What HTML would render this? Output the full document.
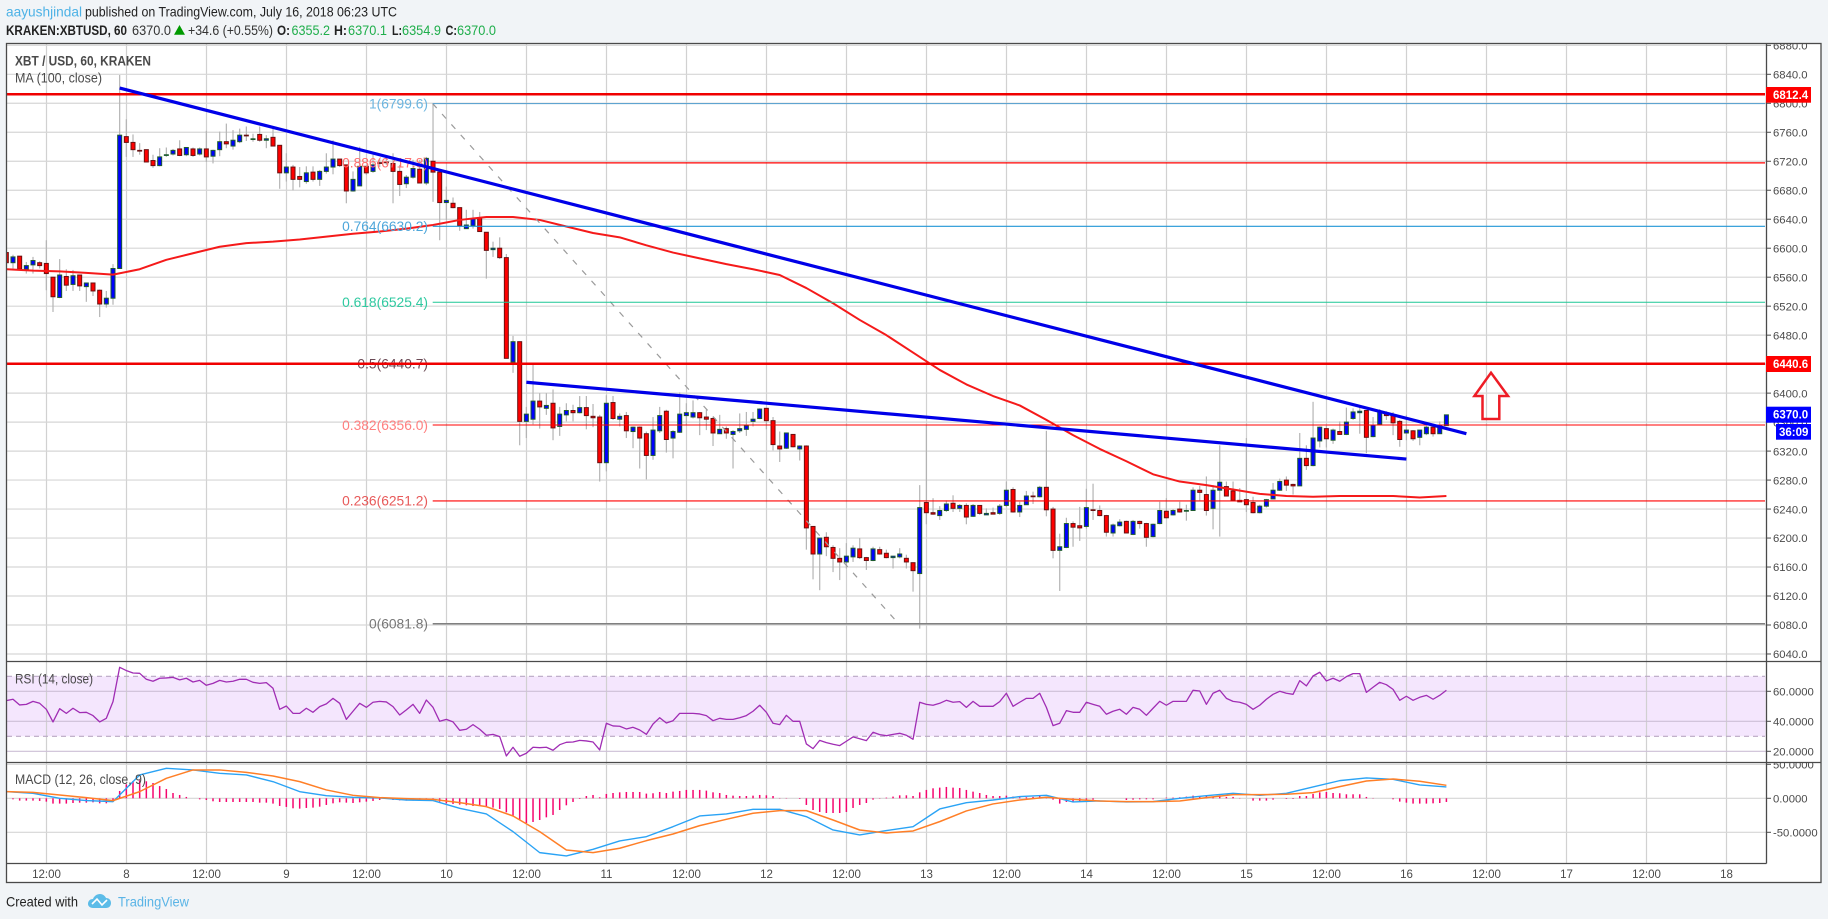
<!DOCTYPE html>
<html lang="en">
<head>
<meta charset="utf-8">
<title>XBT / USD, 60, KRAKEN</title>
<style>
html,body{margin:0;padding:0;background:#f1f4f7;width:1828px;height:919px;overflow:hidden}
svg{display:block;font-family:"Liberation Sans",Arial,sans-serif}
</style>
</head>
<body>
<svg id="chart" xmlns="http://www.w3.org/2000/svg" width="1828" height="919" viewBox="0 0 1828 919">
<defs>
<clipPath id="main-clip"><rect x="7" y="44" width="1759" height="617"/></clipPath>
<clipPath id="axis-clip"><rect x="1767" y="44" width="54" height="617"/></clipPath>
<clipPath id="macd-axis-clip"><rect x="1767" y="763" width="54" height="100"/></clipPath>
<clipPath id="macd-clip"><rect x="7" y="763" width="1759" height="100"/></clipPath>
</defs>
<rect x="0" y="0" width="1828" height="919" fill="#f1f4f7"/>
<rect x="6.5" y="43.5" width="1814.5" height="839" fill="#ffffff"/>

<text x="6" y="16.5" font-size="14" fill="#4db2e6" textLength="76" lengthAdjust="spacingAndGlyphs">aayushjindal</text>
<text x="85" y="16.5" font-size="14" fill="#222" textLength="312" lengthAdjust="spacingAndGlyphs">published on TradingView.com, July 16, 2018 06:23 UTC</text>
<text x="6" y="35" font-size="14" font-weight="bold" fill="#222" textLength="121" lengthAdjust="spacingAndGlyphs">KRAKEN:XBTUSD, 60</text>
<text x="132" y="35" font-size="14" fill="#333" textLength="39" lengthAdjust="spacingAndGlyphs">6370.0</text>
<polygon points="174,34.7 185,34.7 179.5,25" fill="#009a00"/>
<text x="188" y="35" font-size="14" fill="#333" textLength="85" lengthAdjust="spacingAndGlyphs">+34.6 (+0.55%)</text>
<text x="277" y="35" font-size="14" font-weight="bold" fill="#222" textLength="13" lengthAdjust="spacingAndGlyphs">O:</text>
<text x="291.5" y="35" font-size="14" fill="#1fae4b" textLength="38.5" lengthAdjust="spacingAndGlyphs">6355.2</text>
<text x="334" y="35" font-size="14" font-weight="bold" fill="#222" textLength="13" lengthAdjust="spacingAndGlyphs">H:</text>
<text x="348" y="35" font-size="14" fill="#1fae4b" textLength="39" lengthAdjust="spacingAndGlyphs">6370.1</text>
<text x="392" y="35" font-size="14" font-weight="bold" fill="#222" textLength="10" lengthAdjust="spacingAndGlyphs">L:</text>
<text x="402" y="35" font-size="14" fill="#1fae4b" textLength="39" lengthAdjust="spacingAndGlyphs">6354.9</text>
<text x="445.5" y="35" font-size="14" font-weight="bold" fill="#222" textLength="11.5" lengthAdjust="spacingAndGlyphs">C:</text>
<text x="457" y="35" font-size="14" fill="#1fae4b" textLength="39" lengthAdjust="spacingAndGlyphs">6370.0</text>

<g id="rsi-band"></g>
<g id="grid"></g>
<g id="rsi-levels"></g>
<g id="candles" clip-path="url(#main-clip)"></g>
<g id="ma" clip-path="url(#main-clip)"></g>
<g id="fib" clip-path="url(#main-clip)"></g>
<g id="levels" clip-path="url(#main-clip)"></g>
<g id="trend" clip-path="url(#main-clip)"></g>
<g id="rsi"></g>
<g id="macd" clip-path="url(#macd-clip)"></g>

<polygon points="1491,372.7 1508,396 1499.3,396 1499.3,419 1482.5,419 1482.5,396 1474.4,396" fill="none" stroke="#ee1c25" stroke-width="2.5" stroke-linejoin="miter"/>

<text x="15" y="65.5" font-size="13.5" font-weight="bold" fill="#4a4a4a" textLength="136" lengthAdjust="spacingAndGlyphs">XBT / USD, 60, KRAKEN</text>
<text x="15" y="82.5" font-size="13.5" fill="#4a4a4a" textLength="87" lengthAdjust="spacingAndGlyphs">MA (100, close)</text>
<text x="15" y="683.5" font-size="13.5" fill="#4a4a4a" textLength="78" lengthAdjust="spacingAndGlyphs">RSI (14, close)</text>
<text x="15" y="784" font-size="13.5" fill="#4a4a4a" textLength="131" lengthAdjust="spacingAndGlyphs">MACD (12, 26, close, 9)</text>

<g fill="none" stroke="#4a4a4a" stroke-width="1.3">
<rect x="6.5" y="43.5" width="1814.5" height="839"/>
<line x1="1766.5" y1="43.5" x2="1766.5" y2="863.5"/>
<line x1="6.5" y1="863.5" x2="1766.5" y2="863.5"/>
<line x1="6.5" y1="661.5" x2="1821" y2="661.5"/>
<line x1="6.5" y1="762.5" x2="1821" y2="762.5"/>
</g>

<g id="axis-labels"></g>

<g font-size="11.5" font-weight="bold" fill="#fff">
<rect x="1766" y="87" width="45" height="15.7" fill="#ff0000"/>
<text x="1773" y="99">6812.4</text>
<rect x="1766" y="356" width="45" height="16" fill="#ff0000"/>
<text x="1773" y="368">6440.6</text>
<rect x="1766" y="406.7" width="45" height="16" fill="#0000ff"/>
<text x="1773" y="418.7">6370.0</text>
<rect x="1776" y="424" width="35" height="15.7" fill="#0000ff"/>
<text x="1779" y="436">36:09</text>
</g>

<text x="6" y="906.5" font-size="14" fill="#222" textLength="72" lengthAdjust="spacingAndGlyphs">Created with</text>
<g>
<path d="M88 904c0-3 2-5 5-5 1-3 4-5 7-5 3 0 5 2 6 4 3 0 5 2 5 5 0 3-2 5-5 5H93c-3 0-5-2-5-4z" fill="#5cbce8"/>
<polyline points="92,904 97,899 102,905 107,900" fill="none" stroke="#fff" stroke-width="1.6"/>
</g>
<text x="118" y="906.5" font-size="14" fill="#5ab4e6" textLength="71" lengthAdjust="spacingAndGlyphs">TradingView</text>
</svg>

<script>
var opens=[6594,6580,6589,6571,6577,6580,6579,6560,6532,6561,6550,6563,
6547,6552,6542,6523,6531,6572,6754,6746,6735,6736,6721,6714,
6728,6730,6737,6729,6737,6730,6737,6727,6736,6747,6741,6747,
6756,6750,6757,6749,6753,6742,6704,6712,6699,6692,6705,6695,
6706,6712,6723,6715,6679,6686,6713,6706,6718,6719,6717,6706,
6689,6698,6709,6690,6720,6705,6663,6662,6656,6627,6631,6642,
6622,6598,6600,6587,6443,6471,6361,6364,6389,6379,6386,6354,
6370,6376,6373,6380,6368,6367,6304,6387,6364,6369,6347,6353,
6344,6314,6348,6375,6338,6346,6369,6367,6373,6367,6365,6344,
6351,6343,6348,6350,6361,6365,6379,6362,6327,6324,6343,6323,
6327,6216,6178,6201,6187,6172,6167,6174,6185,6173,6169,6184,
6179,6173,6174,6172,6166,6151,6249,6235,6231,6238,6248,6241,
6245,6230,6245,6232,6235,6234,6245,6267,6236,6246,6258,6257,
6270,6240,6183,6187,6220,6217,6216,6239,6238,6231,6207,6217,
6223,6205,6223,6220,6202,6220,6237,6232,6240,6237,6238,6266,
6260,6241,6266,6271,6265,6252,6253,6249,6235,6244,6254,6266,
6280,6274,6272,6310,6300,6334,6351,6335,6347,6343,6365,6373,
6376,6340,6357,6371,6369,6361,6345,6348,6339,6344,6353,6344,6355.2];
var closes=[6580,6588,6571,6576,6583,6576,6565,6533,6563,6549,6562,6548,
6552,6541,6523,6531,6572,6756,6746,6736,6734,6719,6714,6726,
6729,6735,6728,6739,6728,6737,6726,6735,6747,6744,6749,6756,
6755,6751,6749,6751,6741,6704,6712,6695,6695,6704,6695,6706,
6712,6723,6714,6679,6695,6713,6704,6715,6717,6718,6706,6688,
6698,6710,6690,6724,6705,6663,6666,6656,6631,6632,6641,6623,
6597,6600,6587,6448,6471,6361,6371,6389,6381,6383,6352,6371,
6376,6373,6380,6369,6366,6304,6386,6365,6368,6348,6353,6338,
6314,6349,6369,6336,6347,6371,6373,6373,6366,6364,6345,6350,
6345,6347,6351,6355,6364,6378,6362,6329,6323,6345,6326,6327,
6214,6178,6200,6188,6172,6167,6175,6186,6173,6169,6185,6178,
6173,6175,6178,6167,6155,6242,6235,6233,6238,6247,6241,6245,
6229,6245,6234,6234,6233,6244,6266,6236,6245,6258,6257,6270,
6239,6183,6188,6220,6215,6214,6242,6238,6231,6208,6218,6222,
6207,6223,6220,6201,6219,6238,6228,6238,6236,6238,6266,6263,
6238,6266,6277,6258,6252,6250,6246,6235,6244,6253,6266,6278,
6273,6272,6310,6300,6338,6353,6337,6349,6343,6360,6374,6375,
6339,6356,6375,6369,6359,6336,6349,6337,6349,6353,6344,6356,6370];
var highs=[6594,6591,6589,6581,6588,6582,6611,6560,6585,6571,6570,6563,
6552,6552,6543,6541,6578,6839,6778,6757,6745,6736,6729,6738,
6739,6737,6749,6739,6739,6739,6762,6736,6761,6772,6763,6765,
6768,6758,6768,6756,6765,6742,6731,6715,6712,6713,6713,6708,
6731,6749,6723,6715,6706,6740,6713,6729,6723,6726,6731,6715,
6701,6722,6722,6726,6800,6708,6685,6670,6656,6653,6653,6650,
6622,6609,6615,6592,6479,6471,6381,6439,6400,6400,6405,6381,
6386,6384,6396,6396,6385,6370,6397,6396,6372,6374,6354,6354,
6347,6367,6381,6377,6349,6401,6386,6390,6374,6377,6367,6370,
6354,6349,6372,6374,6374,6379,6379,6367,6347,6345,6343,6328,
6328,6216,6200,6208,6190,6186,6193,6190,6200,6174,6188,6188,
6184,6175,6186,6177,6166,6273,6356,6255,6244,6252,6259,6247,
6248,6247,6245,6241,6242,6247,6278,6270,6250,6265,6264,6272,
6348,6243,6206,6228,6223,6243,6268,6275,6245,6232,6220,6226,
6224,6225,6224,6221,6220,6250,6255,6240,6250,6246,6270,6272,
6285,6273,6328,6278,6278,6269,6338,6257,6246,6254,6276,6282,
6285,6275,6345,6328,6388,6354,6355,6351,6361,6380,6379,6380,
6376,6367,6378,6375,6374,6363,6370,6349,6349,6355,6354,6361,6370.1];
var lows=[6580,6572,6571,6565,6565,6572,6542,6512,6531,6541,6541,6541,
6526,6534,6505,6518,6522,6572,6726,6726,6729,6719,6711,6713,
6726,6728,6727,6727,6726,6728,6719,6717,6727,6738,6736,6745,
6748,6747,6747,6738,6741,6682,6692,6680,6684,6689,6692,6686,
6703,6702,6712,6662,6678,6686,6701,6704,6712,6715,6662,6672,
6683,6696,6690,6687,6664,6611,6639,6655,6624,6627,6627,6623,
6558,6588,6585,6448,6428,6328,6338,6357,6351,6370,6335,6341,
6361,6361,6372,6350,6353,6278,6292,6363,6354,6338,6324,6296,
6281,6308,6345,6318,6310,6345,6356,6365,6342,6349,6327,6344,
6337,6296,6345,6341,6354,6364,6350,6321,6305,6323,6325,6307,
6184,6143,6128,6175,6153,6142,6158,6167,6171,6156,6168,6177,
6172,6158,6172,6158,6126,6075,6219,6232,6225,6236,6236,6236,
6219,6229,6232,6232,6233,6232,6243,6235,6229,6246,6247,6256,
6230,6172,6127,6186,6188,6196,6213,6225,6230,6202,6202,6216,
6207,6204,6213,6188,6201,6219,6227,6231,6235,6224,6238,6252,
6231,6212,6202,6258,6252,6250,6236,6234,6234,6242,6254,6265,
6265,6260,6272,6294,6299,6325,6325,6330,6343,6342,6363,6344,
6317,6339,6356,6363,6342,6326,6335,6334,6328,6342,6340,6344,6354.9];
/* moving average, MACD and signal: one reading every 4th bar */
var maValues=[6571,6569,6568,6566,6563.5,6571,6584,6593,6602,6607,6609,6612,6616,6620,6623,
6627,6632,6639,6643,6643,6639,6630,6621,6615,6604,6594,6586,6578,6571,6563,
6545,6524,6501,6480,6456,6432,6412,6396,6383,6363,6342,6323,6306,6288,6278,
6273,6267,6261,6258,6257,6258,6258,6258,6256,6258];
var rsiValues=[53.8,54.7,50.9,51.3,53.3,52,48,39.6,48.4,45.3,48.7,45.8,46,43.8,39.6,42,53.1,76,73.8,72.2,
72,68,66.7,68.7,68.9,69.3,67.6,68.7,66.2,67.3,64,65.3,67.3,66.2,66.7,68,68,66,65.3,65.8,
62,48,50.2,45.3,45.3,48.7,46,49.8,51.6,55.3,52,41.3,46.7,52,49.3,52.7,53.3,52.9,49.8,44.2,
47.6,51.3,45.3,54.2,49.3,40,41.3,39.6,34,34.7,37.8,34.7,30.7,31.3,29.8,16.9,22.7,16.7,18.7,22.7,
22.4,22.7,20.7,24.4,26,26.2,27.3,26.9,26.2,20.9,38.7,36.9,36.7,34.9,36,34.2,31.3,38.2,42.4,38.9,
40.4,45.3,45.3,45.3,44.9,43.8,40.4,42,41.3,41.3,42.4,43.8,46.7,50.7,46,38.7,37.8,44,40,40,
24.9,21.8,27.3,25.8,24.7,23.8,26.7,29.6,28.4,27.1,32.7,31.1,30.4,31.3,32,30.7,28,52.7,51.3,50.7,
52,54,52.7,53.1,49.3,53.3,50,50,50,53.1,58.7,50,52.7,55.3,55.3,58.7,49.3,37.1,38.7,47.1,
46,46,52.7,51.3,50,44.7,46.7,48,44.7,49.3,48,44,48.7,53.3,50.7,53.3,53.3,53.3,60.7,60.2,
51.3,58.7,60.7,55.3,53.3,52.7,51.3,48,50.7,54.7,58,60,58.7,58,67.1,63.6,70.2,72.7,66.9,68.7,
66.7,69.8,71.8,71.8,59.3,62.7,66,64.4,61.3,54,56.7,54,56,57.3,54.7,57.3,60.7];
var macdValues=[9.8,7.4,0,-3.4,-4.9,34.3,44.1,41.7,36.8,34.3,24.5,9.8,3.9,1.5,0.5,-2.5,-3.4,-14.7,-23,-49,
-79.9,-84.8,-75,-62.7,-56.4,-41.7,-26,-23,-16.2,-16.2,-27,-46.6,-53.9,-47.5,-41.7,-15.7,-6.4,-2.5,2.5,4.4,
-5.4,-3.9,-5.4,-4.9,0,3.9,7.4,4.4,7.4,16.7,26,29.9,27.9,19.6,16.7];
var signalValues=[9.8,8.8,4.9,1,-3.4,9.8,29.4,41.7,41.7,38.2,32.8,24.5,12.3,4.4,1,-0.5,-1.5,-6.4,-12.3,-26,
-49,-76,-79.9,-73.5,-62.3,-52.5,-40.2,-30.9,-22,-18.1,-18.1,-31.9,-46.6,-51,-48,-34.3,-18.6,-8.3,-2.5,1.5,
-1.5,-3.9,-4.9,-4.9,-3.9,1,5.4,5.4,5.9,8.3,17.2,25.5,28.4,25,19.1];
var histValues=[0,-1.5,-3.4,-3.4,-3.4,-3.9,-4.9,-7.8,-7.8,-7.8,-6.9,-6.4,-6.4,-5.9,-7.4,-7.4,-3.4,10.8,20.6,25.5,
26.5,25,22.5,18,13.7,7.8,4.9,2,0,-1.5,-2.5,-4.4,-5.4,-5.4,-5.4,-5.4,-5.4,-5.4,-6.4,-6.4,
-7.8,-11.3,-12.7,-14.7,-15.2,-14.2,-13.7,-12.3,-9.8,-7.4,-5.9,-6.4,-6.9,-5.9,-4.9,-3.9,-2.5,-1,-2.5,-3,
-3.4,-3.4,-2.5,-1.5,-2.5,-4.9,-7.4,-8.3,-9.3,-10.3,-11.3,-11.3,-12.3,-13.7,-15.7,-20.6,-25.5,-31.4,-36.3,-34.8,
-31.9,-28,-24.5,-17.2,-10.3,-5.4,-1,3.4,4.9,1.5,6.4,7.8,8.8,9.3,9.3,9.3,6.9,7.4,9.3,7.8,
9.8,10.8,12.3,12.3,12.3,11.3,8.8,7.8,4.9,3.9,3.4,3.4,3.9,4.9,4.4,3.4,0.5,0.5,0,-1,
-9.8,-17.2,-20.1,-21.6,-21.6,-21.6,-20.1,-14.2,-9.8,-6.9,-2,-0.5,1,2.5,4.4,4.4,3.4,8.8,12.3,14.7,
15.7,16.7,15.7,15.2,12.3,9.8,7.8,4.9,3.4,3.4,3.9,2.5,1.5,1.5,2,3.4,0.5,-2,-7.8,-5.4,
-5.4,-5.4,-3.4,-2,0,0,0,0,-2.5,-2,-1.5,-1.5,-1.5,0,1,1,1.5,2.5,3.9,2.5,
3.4,2.5,4.4,2,2,0.5,0,-3.4,-3.4,-3.4,-2,0,-1,-1,3.4,3.4,6.4,8.8,9.3,7.8,
7.4,5.9,5.9,5.9,2,0.5,0,0,-1.5,-4.9,-6.4,-7.8,-7.8,-7.8,-7.4,-6.9,-5.4];
var priceTicks=[6880,6840,6800,6760,6720,6680,6640,6600,6560,6520,6480,6440,6400,6360,6320,6280,6240,6200,6160,6120,6080,6040];
var rsiTicks=[60,40,20];
var macdTicks=[50,0,-50];
var timeLabels=["12:00","8","12:00","9","12:00","10","12:00","11","12:00","12","12:00","13","12:00","14","12:00","15","12:00","16","12:00","17","12:00","18"];
var fibRatios=["1","0.886","0.764","0.618","0.5","0.382","0.236","0"];
var fibPrices=[6799.6,6717.8,6630.2,6525.4,6440.7,6356.0,6251.2,6081.8];
var fibLineColors=["#5fa4d0","#ff0000","#2196d6","#1fc796","#ff0000","#ff0000","#ff0000","#808080"];
var fibTextColors=["#6bb5e0","#ff6f6f","#4da6da","#2fc9a0","#6b4a55","#ff7f7f","#e85a5a","#777777"];
var resistanceLevels=[6812.4,6440.6];
var trendBars=[[17.0,6821],[219,6344],[78,6415],[210,6309]];

var NS="http://www.w3.org/2000/svg";
function xBar(i){return 6.33+6.667*i;}
function yPrice(p){return 74.3+(6840-p)*0.7246;}
function yRsi(v){return 691.3+(60-v)*1.5;}
function yMacd(v){return 798.3-v*0.68;}
function xGrid(k){return 46.5+80*k;}
function make(parent,tag,attrs){
  var el=document.createElementNS(NS,tag);
  for(var a in attrs){el.setAttribute(a,attrs[a]);}
  document.getElementById(parent).appendChild(el);
  return el;
}
function label(parent,x,y,str,attrs){
  var el=make(parent,"text",attrs);
  el.setAttribute("x",x);
  el.setAttribute("y",y);
  el.textContent=str;
  return el;
}
function pathFrom(values,step,yFn){
  var d="";
  for(var i=0;i<values.length;i++){
    d+=(i?"L":"M")+xBar(i*step).toFixed(2)+" "+yFn(values[i]).toFixed(2);
  }
  return d;
}

function drawBand(){
  var band=make("rsi-band","rect",{x:6.5,width:1759,y:yRsi(70),height:yRsi(30)-yRsi(70),fill:"#f4e6fd"});
  
  
}
function drawGrid(){
  timeLabels.forEach(function(t,k){
    var v=make("grid","line",{x1:xGrid(k),x2:xGrid(k),y1:44,y2:863,stroke:"#cfcfcf","stroke-width":1.2,"stroke-opacity":0.95});
    
    
    var tl=label("axis-labels",xGrid(k),878,t,{"font-size":11.5,fill:"#4a4a4a","text-anchor":"middle"});
    
    
  });
  priceTicks.forEach(function(p){
    var y=yPrice(p);
    var h=make("grid","line",{x1:7,x2:1766,y1:y,y2:y,stroke:"#d6d6d6","stroke-width":1.2});
    
    
    var m=make("axis-labels","line",{x1:1766.5,x2:1771,y1:y,y2:y,stroke:"#4a4a4a","stroke-width":1});
    
    
    var t=label("axis-labels",1773,y+4.2,p.toFixed(1),{"font-size":11.3,fill:"#4a4a4a","clip-path":"url(#axis-clip)"});
    
    
  });
  rsiTicks.forEach(function(v){
    var y=yRsi(v);
    var h=make("grid","line",{x1:7,x2:1766,y1:y,y2:y,stroke:"#cdbfd6","stroke-width":1.2});
    
    
    var m=make("axis-labels","line",{x1:1766.5,x2:1771,y1:y,y2:y,stroke:"#4a4a4a","stroke-width":1});
    
    
    var t=label("axis-labels",1773,y+4.2,v.toFixed(4),{"font-size":11.3,fill:"#4a4a4a"});
    
    
  });
  macdTicks.forEach(function(v){
    var y=yMacd(v);
    var h=make("grid","line",{x1:7,x2:1766,y1:y,y2:y,stroke:"#d6d6d6","stroke-width":1.2});
    
    
    var m=make("axis-labels","line",{x1:1766.5,x2:1771,y1:y,y2:y,stroke:"#4a4a4a","stroke-width":1});
    
    
    var t=label("axis-labels",1773,y+4.2,v.toFixed(4),{"font-size":11.3,fill:"#4a4a4a","clip-path":"url(#macd-axis-clip)"});
    
    
  });
  [70,30].forEach(function(v){
    var l=make("rsi-levels","line",{x1:7,x2:1765,y1:yRsi(v),y2:yRsi(v),stroke:"#b9a8c4","stroke-width":1.1,"stroke-dasharray":"5 4"});
    
    
  });
}
function drawCandles(){
  for(var i=0;i<opens.length;i++){
    var up=closes[i]>=opens[i];
    var cx=xBar(i);
    var wick=make("candles","line",{x1:cx,x2:cx,y1:yPrice(highs[i]),y2:yPrice(lows[i]),stroke:"#b4b4b4","stroke-width":1.2});
    
    
    var bodyTop=yPrice(Math.max(opens[i],closes[i]));
    var bodyBottom=yPrice(Math.min(opens[i],closes[i]));
    var body=make("candles","rect",{x:cx-2,y:bodyTop,width:4,height:Math.max(bodyBottom-bodyTop,0.6),fill:up?"#0000ff":"#ff0000",stroke:up?"#1d5c2e":"#6b1010","stroke-width":1});
    
    
  }
}
function drawMa(){
  var maLine=make("ma","path",{d:pathFrom(maValues,4,yPrice),fill:"none",stroke:"#f51a1a","stroke-width":2,"stroke-linejoin":"round"});
  
  
}
function drawFib(){
  var fibDiag=make("fib","line",{x1:432.7,y1:yPrice(fibPrices[0]),x2:898.6,y2:yPrice(fibPrices[7]),stroke:"#9a9a9a","stroke-width":1.2,"stroke-dasharray":"6 8"});
  
  
  fibPrices.forEach(function(p,k){
    var y=yPrice(p);
    var ln=make("fib","line",{x1:432.7,x2:1765,y1:y,y2:y,stroke:fibLineColors[k],"stroke-width":k===7?1.5:(k===1?1.3:1.1)});
    
    
    var tx=label("fib",428,y+4.8,fibRatios[k]+"("+p.toFixed(1)+")",{"font-size":13.8,fill:fibTextColors[k],"text-anchor":"end"});
    
    
  });
}
function drawLevels(){
  resistanceLevels.forEach(function(p){
    var y=yPrice(p);
    var ln=make("levels","line",{x1:6.5,x2:1765,y1:y,y2:y,stroke:"#f00000","stroke-width":2.5});
    
    
  });
}
function drawTrend(){
  for(var t=0;t<trendBars.length;t+=2){
    var a=trendBars[t],b=trendBars[t+1];
    var tr=make("trend","line",{x1:xBar(a[0]),y1:yPrice(a[1]),x2:xBar(b[0]),y2:yPrice(b[1]),stroke:"#0000e8","stroke-width":3.2});
    
    
  }
}
function drawRsi(){
  var rsiLine=make("rsi","path",{d:pathFrom(rsiValues,1,yRsi),fill:"none",stroke:"#a02db4","stroke-width":1.3,"stroke-linejoin":"round"});
  
  
}
function drawMacd(){
  histValues.forEach(function(v,i){
    if(v===0){return;}
    var bar=make("macd","line",{x1:xBar(i),x2:xBar(i),y1:yMacd(0),y2:yMacd(v),stroke:"#f5056e","stroke-width":1.5});
    
    
  });
  var macdLine=make("macd","path",{d:pathFrom(macdValues,4,yMacd),fill:"none",stroke:"#2aa3f5","stroke-width":1.4,"stroke-linejoin":"round"});
  
  
  var signalLine=make("macd","path",{d:pathFrom(signalValues,4,yMacd),fill:"none",stroke:"#ff7f27","stroke-width":1.5,"stroke-linejoin":"round"});
  
  
}
drawBand();
drawGrid();
drawCandles();
drawMa();
drawFib();
drawLevels();
drawTrend();
drawRsi();
drawMacd();
</script>
</body>
</html>
